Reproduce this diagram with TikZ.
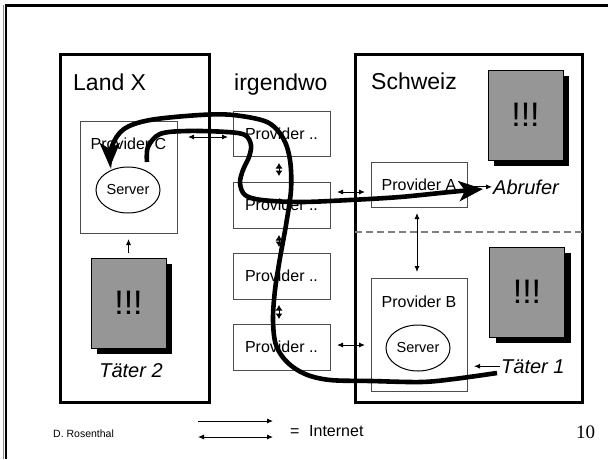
\documentclass[tikz,border=0pt]{standalone}
\usepackage{fontspec}
\setmainfont{Liberation Sans}
\newfontfamily\numfont{Liberation Serif}
\usetikzlibrary{arrows.meta,shapes.geometric,calc,shadows}
\definecolor{alarmgray}{RGB}{150,150,150}
\begin{document}
\begin{tikzpicture}[x=1pt,y=-1pt,
  region/.style={draw=black, line width=3pt, inner sep=0pt, outer sep=0pt},
  title/.style={inner sep=0pt, font=\fontsize{23}{23}\selectfont},
  prov/.style={draw=black!70, line width=1pt, inner sep=0pt, outer sep=0pt, font=\fontsize{16}{16}\selectfont},
  provtxt/.style={inner sep=0pt, font=\fontsize{16}{16}\selectfont},
  srv/.style={draw=black, line width=1pt, ellipse, inner sep=0pt, minimum width=64pt, minimum height=46pt, font=\fontsize{14.5}{14.5}\selectfont},
  alarm/.style={draw=black, line width=0.8pt, fill=alarmgray, inner sep=0pt, outer sep=0pt,
     minimum width=75pt, minimum height=90pt, font=\fontsize{34}{34}\selectfont,
     drop shadow={shadow xshift=6pt, shadow yshift=-6pt, fill=black, opacity=1}},
  ital/.style={inner sep=1pt, font=\fontsize{20}{20}\selectfont\itshape},
  sarr/.style={line width=0.9pt, -{Latex[length=6pt,width=5pt]}},
  darr/.style={line width=0.9pt, {Latex[length=6pt,width=5pt]}-{Latex[length=6pt,width=5pt]}},
  varr/.style={line width=0.9pt, {Latex[length=5.5pt,width=7pt]}-{Latex[length=5.5pt,width=7pt]}},
  path line/.style={line width=4.6pt, -{Stealth[length=24pt,width=20pt,inset=6pt]}},
  dashline/.style={draw=black!50, line width=1.5pt, dash pattern=on 7pt off 4pt}
]
\useasboundingbox (0,0) rectangle (608,459);
% slide frame
\draw[black!45, line width=1.5pt] (3.5,459) -- (3.5,4.5);
\draw[black, line width=2pt] (6,459) -- (6,5);
\draw[black, line width=2.5pt] (5,5.5) -- (608,5.5);

% regions
\node[region, minimum width=149pt, minimum height=348pt] (landx) at (134.5,228) {};
\node[region, minimum width=227pt, minimum height=348pt] (ch) at (468.5,228) {};
\node[title, anchor=base west] (tlx) at (73,90) {Land X};
\node[title, anchor=base west] (tirg) at (234,90) {irgendwo};
\node[title, anchor=base west] (tch) at (371,89) {Schweiz};
\draw[dashline] (ch.west |- 0,232) -- (ch.east |- 0,232);

% Land X
\node[prov, minimum width=97pt, minimum height=112pt] (pc) at (128.5,177) {};
\node[provtxt, anchor=base] (pctxt) at (128.5,149) {Provider C};
\node[srv] (s1) at (128,190) {Server};
\node[alarm] (g3) at (128.5,303) {!!!};
\node[ital, anchor=base] (t2) at (131,377) {Täter 2};
\draw[sarr, shorten <=5pt, shorten >=6pt] (g3.north) -- (pc.south);

% irgendwo
\node[prov, minimum width=97pt, minimum height=45pt] (m1) at (281.5,133.5) {Provider ..};
\node[prov, minimum width=97pt, minimum height=46pt] (m2) at (281.5,205) {Provider ..};
\node[prov, minimum width=97pt, minimum height=46pt] (m3) at (281.5,276) {Provider ..};
\node[prov, minimum width=97pt, minimum height=46pt] (m4) at (281.5,347) {Provider ..};
\draw[varr, shorten <=7pt, shorten >=6pt] ($(m1.south)+(-2.5,0)$) -- ($(m2.north)+(-2.5,0)$);
\draw[varr, shorten <=7pt, shorten >=6pt] ($(m2.south)+(-2.5,0)$) -- ($(m3.north)+(-2.5,0)$);
\draw[varr, shorten <=6pt, shorten >=5pt] ($(m3.south)+(-2.5,0)$) -- ($(m4.north)+(-2.5,0)$);

% Schweiz
\node[prov, minimum width=96pt, minimum height=45pt] (pa) at (419,184.5) {Provider A};
\node[prov, minimum width=96pt, minimum height=113pt] (pb) at (419,334.5) {};
\node[provtxt, anchor=base] (pbtxt) at (419,307) {Provider B};
\node[srv] (s2) at (418,348) {Server};
\node[alarm] (g1) at (525.5,115) {!!!};
\node[alarm] (g2) at (527,292) {!!!};
\node[ital, anchor=base west] (abr) at (492,194) {Abrufer};
\node[ital, anchor=base west] (t1) at (500,373) {Täter 1};
\draw[sarr, shorten <=7pt] (pa.east |- abr.west) -- (abr.west);
\draw[sarr, shorten >=7pt] (t1.west) -- (pb.east |- t1.west);
\draw[darr, shorten <=6pt, shorten >=6pt] ($(pa.south)+(-2,0)$) -- ($(pb.north)+(-2,0)$);

% Internet links
\draw[darr, shorten <=11pt, shorten >=5pt] ($(m1.west -| pc.east)+(0,3.5)$) -- ($(m1.west)+(0,3.5)$);
\draw[darr, shorten <=7pt, shorten >=6pt] ($(m2.east |- pa.west)+(0,7.5)$) -- ($(pa.west)+(0,7.5)$);
\draw[darr, shorten <=7pt, shorten >=6pt] ($(m4.east)+(0,-2)$) -- ($(m4.east -| pb.west)+(0,-2)$);

% attack paths
\coordinate (c1start) at (497,373);
\coordinate (c1end) at (110,167);
\coordinate (c2start) at (147,162);
\coordinate (c2end) at (483,189);
\draw[path line] plot[smooth, tension=0.55] coordinates {(c1start) (454,379) (421,382) (371,381) (330,380) (305,374) (287,362) (276,345) (273,320) (275,290) (280,258) (286,225) (291,190) (290,160) (283,138) (267,122) (233,115) (200,115) (150,120) (124,129) (112,146) (c1end)};
\draw[path line] plot[smooth, tension=0.55] coordinates {(c2start) (148,147) (160,134) (187,131) (227,132) (245,135) (251,145) (249,157) (243,170) (240,183) (245,195) (262,200) (300,202) (350,200) (400,197) (450,192) (c2end)};

% legend
\coordinate (l1a) at (198,421);
\coordinate (l1b) at (273,421);
\coordinate (l2a) at (198,437);
\coordinate (l2b) at (273,437);
\draw[sarr] (l1a) -- (l1b);
\draw[darr] (l2a) -- (l2b);
\node[inner sep=0pt, anchor=base west, font=\fontsize{16}{16}\selectfont] (eq) at (290,436) {=};
\node[inner sep=0pt, anchor=base west, font=\fontsize{16}{16}\selectfont] (inet) at (309,436) {Internet};
\node[inner sep=0pt, anchor=base west, font=\fontsize{10.5}{10.5}\selectfont] (auth) at (53,437) {D. Rosenthal};
\node[inner sep=0pt, anchor=base west, font=\fontsize{19}{19}\numfont] (pg) at (576,438) {10};
\end{tikzpicture}
\end{document}
